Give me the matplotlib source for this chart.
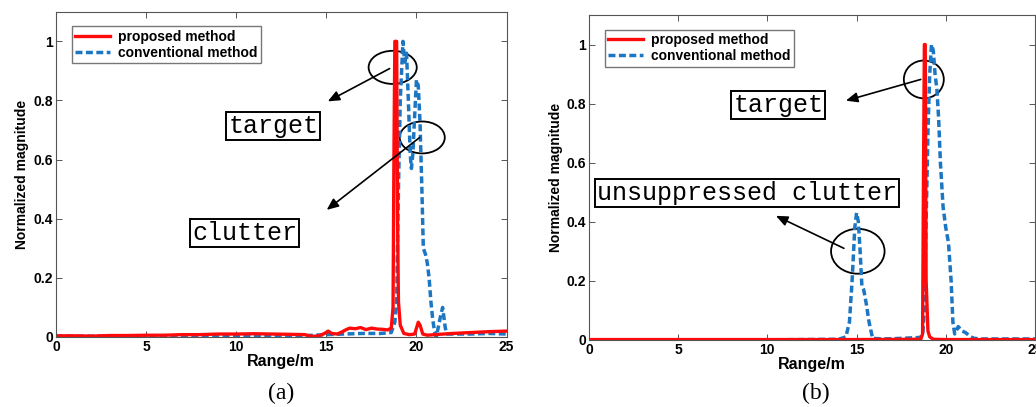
import matplotlib.pyplot as plt
from matplotlib.patches import Ellipse

# data, (a) and (b)
a_red_x = [0, 1, 2, 3, 4, 5, 6, 7, 8, 9, 10, 11, 12, 13, 13.8, 14.2, 14.6, 14.9, 15.1, 15.3,
           15.6, 15.9, 16.1, 16.3, 16.6, 16.9, 17.2, 17.5, 17.8, 18.1, 18.4, 18.6, 18.7, 18.75,
           18.8, 18.9, 18.95, 19.0, 19.1, 19.3, 19.6, 19.9, 20.0, 20.1, 20.2, 20.35, 20.6,
           21.0, 21.5, 22, 23, 24, 25]
a_red_y = [0.004, 0.004, 0.003, 0.005, 0.005, 0.006, 0.006, 0.008, 0.008, 0.01, 0.01, 0.011,
           0.01, 0.009, 0.008, 0.002, 0.004, 0.012, 0.02, 0.012, 0.01, 0.018, 0.025, 0.03,
           0.028, 0.032, 0.025, 0.03, 0.027, 0.026, 0.024, 0.03, 0.1, 0.62, 1.0, 1.0, 0.4,
           0.12, 0.04, 0.012, 0.008, 0.01, 0.03, 0.05, 0.04, 0.01, 0.006, 0.008, 0.01, 0.012,
           0.015, 0.018, 0.02]
a_blue_x = [0, 2, 4, 6, 8, 10, 12, 14, 15, 16, 17, 18, 18.6, 18.8, 18.9, 19.0, 19.1, 19.25,
            19.35, 19.45, 19.55, 19.65, 19.72, 19.8, 19.9, 20.0, 20.1, 20.2, 20.3, 20.38, 20.5,
            20.6, 20.7, 20.8, 20.9, 21.0, 21.1, 21.3, 21.45, 21.6, 21.7, 22, 23, 24, 25]
a_blue_y = [0.003, 0.003, 0.004, 0.004, 0.005, 0.005, 0.006, 0.005, 0.008, 0.01, 0.012, 0.012,
            0.015, 0.05, 0.12, 0.5, 0.8, 1.0, 0.93, 0.96, 0.8, 0.62, 0.57, 0.62, 0.75, 0.87,
            0.85, 0.72, 0.5, 0.3, 0.28, 0.25, 0.2, 0.12, 0.06, 0.02, 0.0, 0.06, 0.1, 0.03,
            0.01, 0.01, 0.01, 0.012, 0.01]

b_red_x = [0, 5, 10, 15, 18.6, 18.7, 18.75, 18.8, 18.85, 18.9, 19.0, 19.1, 19.3, 20, 25]
b_red_y = [0.001, 0.001, 0.001, 0.001, 0.002, 0.02, 0.55, 1.0, 1.0, 0.2, 0.03, 0.01, 0.002,
           0.001, 0.001]
b_blue_x = [0, 5, 10, 14.0, 14.4, 14.6, 14.75, 14.9, 15.0, 15.1, 15.2, 15.3, 15.4, 15.55,
            15.7, 15.9, 16.5, 17.5, 18.5, 18.7, 18.8, 18.9, 19.0, 19.1, 19.2, 19.3, 19.4,
            19.5, 19.6, 19.7, 19.85, 20.0, 20.15, 20.3, 20.4, 20.5, 20.7, 20.9, 21.1, 21.4,
            21.6, 22, 25]
b_blue_y = [0.0, 0.0, 0.0, 0.002, 0.01, 0.06, 0.2, 0.38, 0.43, 0.4, 0.3, 0.18, 0.17, 0.12,
            0.06, 0.005, 0.003, 0.005, 0.008, 0.012, 0.1, 0.4, 0.7, 0.9, 1.0, 0.98, 0.9, 0.85,
            0.75, 0.6, 0.45, 0.38, 0.33, 0.2, 0.06, 0.02, 0.045, 0.03, 0.025, 0.01, 0.005,
            0.003, 0.003]

xticks = [0, 5, 10, 15, 20, 25]
yticks = [0, 0.2, 0.4, 0.6, 0.8, 1]
ytick_labels = ['0', '0.2', '0.4', '0.6', '0.8', '1']

RED = '#ff0a0a'
BLUE = '#1c76c2'
sans = 'Liberation Sans'
mono = 'Liberation Mono'

fig = plt.figure(figsize=(10.36, 4.07), dpi=100)
ax_a = fig.add_axes([0.054, 0.172, 0.435, 0.799])
ax_b = fig.add_axes([0.5685, 0.165, 0.4305, 0.798])


def style(ax, bx, by, rx, ry):
    ax.plot(bx, by, '--', color=BLUE, lw=2.5, dashes=(2.0, 1.0), label='conventional method')
    ax.plot(rx, ry, '-', color=RED, lw=2.4, label='proposed method')
    ax.set_xlim(0, 25)
    ax.set_ylim(0, 1.1)
    ax.set_xticks(xticks)
    ax.set_yticks(yticks, ytick_labels)
    ax.tick_params(direction='in', top=True, right=True, length=4, width=0.7,
                   labelsize=10, pad=2, color='#555555')
    for lab in ax.get_xticklabels() + ax.get_yticklabels():
        lab.set_fontweight('bold')
        lab.set_family(sans)
    for sp in ax.spines.values():
        sp.set_color('#555555')
        sp.set_linewidth(0.8)
    ax.set_xlabel('Range/m', fontsize=11.5, fontweight='bold', family=sans, labelpad=0)
    ax.set_ylabel('Normalized magnitude', fontsize=10, fontweight='bold', family=sans,
                  labelpad=3)
    h, l = ax.get_legend_handles_labels()
    ax.legend(h[::-1], l[::-1], loc='upper left', bbox_to_anchor=(0.035, 0.955),
              prop={'family': sans, 'weight': 'bold', 'size': 10}, fancybox=False,
              edgecolor='#777777', framealpha=1, handlelength=2.5, borderpad=0.25,
              labelspacing=0.15, handletextpad=0.6, borderaxespad=0)


def boxed(ax, x, y, s):
    ax.text(x, y, s, family=mono, fontsize=18, ha='center', va='center',
            bbox=dict(boxstyle='square,pad=0.08', fc='white', ec='black', lw=1.4))


def arrow(ax, x0, y0, x1, y1):
    ax.annotate('', xy=(x1, y1), xytext=(x0, y0),
                arrowprops=dict(arrowstyle='-|>,head_length=0.7,head_width=0.3',
                                color='black', lw=1.2, shrinkA=0, shrinkB=0))


style(ax_a, a_blue_x, a_blue_y, a_red_x, a_red_y)
style(ax_b, b_blue_x, b_blue_y, b_red_x, b_red_y)

# annotations (a)
ax_a.add_patch(Ellipse((18.68, 0.912), 2.67, 0.112, fill=False, ec='black', lw=1.3))
ax_a.add_patch(Ellipse((20.32, 0.675), 2.5, 0.108, fill=False, ec='black', lw=1.3))
arrow(ax_a, 18.51, 0.908, 15.08, 0.797)
arrow(ax_a, 20.18, 0.675, 15.02, 0.43)
boxed(ax_a, 12.06, 0.714, 'target')
boxed(ax_a, 10.48, 0.353, 'clutter')

# annotations (b)
ax_b.add_patch(Ellipse((18.77, 0.882), 2.24, 0.128, fill=False, ec='black', lw=1.3))
ax_b.add_patch(Ellipse((15.07, 0.30), 3.0, 0.152, fill=False, ec='black', lw=1.3))
arrow(ax_b, 18.6, 0.882, 14.4, 0.81)
arrow(ax_b, 14.29, 0.31, 10.48, 0.42)
boxed(ax_b, 10.62, 0.795, 'target')
boxed(ax_b, 8.88, 0.498, 'unsuppressed clutter')

fig.text(0.271, 0.034, '(a)', family='Liberation Serif', fontsize=17, ha='center', va='center')
fig.text(0.787, 0.034, '(b)', family='Liberation Serif', fontsize=17, ha='center', va='center')

fig.savefig('out.png', dpi=100)
